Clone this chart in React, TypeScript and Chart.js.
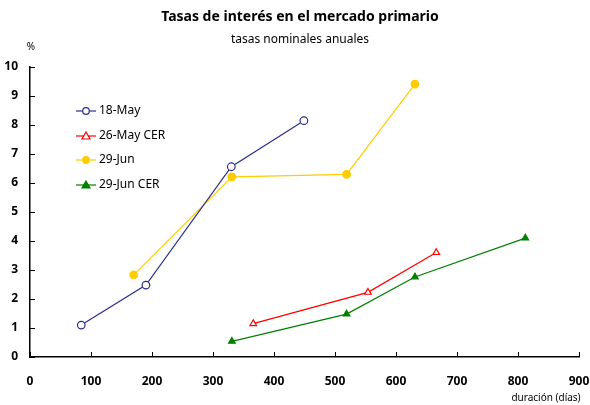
import React, { useEffect, useRef } from "react";
import { Chart, registerables } from "chart.js";
Chart.register(...registerables);

const seriesNames = ["18-May", "26-May CER", "29-Jun", "29-Jun CER"];
const may18X = [84, 190, 330, 449];
const may18Y = [1.1, 2.48, 6.56, 8.15];
const may26CerX = [366, 554, 666];
const may26CerY = [1.15, 2.23, 3.6];
const jun29X = [170, 331, 519, 631];
const jun29Y = [2.83, 6.21, 6.3, 9.41];
const jun29CerX = [331, 519, 631, 812];
const jun29CerY = [0.54, 1.48, 2.76, 4.1];
const xTicks = [0, 100, 200, 300, 400, 500, 600, 700, 800, 900];
const yTicks = [0, 1, 2, 3, 4, 5, 6, 7, 8, 9, 10];

const colors = ["#2B2E8F", "#FF0000", "#FFCC00", "#008000"];
const styles = ["circle", "triangle", "circle", "triangle"];
const filled = [false, false, true, true];
const FONT = "'Noto Sans', sans-serif";

function pts(xs: number[], ys: number[]) {
  return xs.map((x, i) => ({ x, y: ys[i] }));
}

export default function App() {
  const ref = useRef<HTMLCanvasElement | null>(null);
  useEffect(() => {
    const ctx = ref.current!;
    const data = [pts(may18X, may18Y), pts(may26CerX, may26CerY), pts(jun29X, jun29Y), pts(jun29CerX, jun29CerY)];
    const deco = {
      id: "deco",
      afterDraw(chart: any) {
        const c = chart.ctx;
        const xs = chart.scales.x;
        const ys = chart.scales.y;
        const ca = chart.chartArea;
        c.save();
        c.fillStyle = "#000";
        c.textAlign = "center";
        c.textBaseline = "middle";
        c.font = `bold 14px ${FONT}`;
        c.fillText("Tasas de interés en el mercado primario", 300, 17);
        c.font = `12px ${FONT}`;
        c.fillText("tasas nominales anuales", 300, 40);
        c.font = `10px ${FONT}`;
        c.fillText("%", 31, 47);
        c.fillText("duración (días)", 546, 398);
        // inward ticks
        c.strokeStyle = "#000";
        c.lineWidth = 1;
        c.beginPath();
        yTicks.forEach((v) => {
          const y = Math.round(ys.getPixelForValue(v)) + 0.5;
          c.moveTo(ca.left, y);
          c.lineTo(ca.left + 5, y);
        });
        xTicks.forEach((v) => {
          const x = Math.round(xs.getPixelForValue(v)) + 0.5;
          c.moveTo(x, ca.bottom);
          c.lineTo(x, ca.bottom - 5);
        });
        c.stroke();
        // legend
        const ly = [111, 136, 160, 185];
        seriesNames.forEach((n, i) => {
          const y = ly[i];
          c.strokeStyle = colors[i];
          c.lineWidth = 1.2;
          c.beginPath();
          c.moveTo(76, y);
          c.lineTo(96, y);
          c.stroke();
          c.fillStyle = filled[i] ? colors[i] : "#fff";
          c.beginPath();
          if (styles[i] === "circle") {
            c.arc(86, y, 3.3, 0, Math.PI * 2);
          } else {
            c.moveTo(86, y - 4);
            c.lineTo(90, y + 3);
            c.lineTo(82, y + 3);
            c.closePath();
          }
          c.fill();
          c.stroke();
          c.fillStyle = "#000";
          c.textAlign = "left";
          c.font = `12px ${FONT}`;
          c.fillText(n, 99, y);
        });
        c.restore();
      },
    };
    const chart = new Chart(ctx, {
      type: "line",
      data: {
        datasets: data.map((d, i) => ({
          label: seriesNames[i],
          data: d,
          borderColor: colors[i],
          backgroundColor: filled[i] ? colors[i] : "#ffffff",
          pointBackgroundColor: filled[i] ? colors[i] : "#ffffff",
          pointBorderColor: colors[i],
          pointStyle: styles[i],
          pointRadius: 3.8,
          pointBorderWidth: 1.2,
          borderWidth: 1.2,
          tension: 0,
          fill: false,
        })),
      },
      plugins: [deco],
      options: {
        animation: false,
        responsive: false,
        layout: { padding: { top: 67, right: 11, left: 0, bottom: 0 } },
        plugins: { legend: { display: false }, title: { display: false }, tooltip: { enabled: false } },
        scales: {
          x: {
            type: "linear",
            min: 0,
            max: 900,
            afterBuildTicks: (s: any) => { s.ticks = xTicks.map((v) => ({ value: v })); },
            afterFit: (s: any) => { s.height = 48; s.paddingRight = 0; s.paddingLeft = 0; },
            grid: { display: false, drawTicks: false },
            border: { display: true, color: "#000", width: 1.5 },
            ticks: { color: "#000", font: { family: FONT, size: 12, weight: "bold" }, padding: 17, maxRotation: 0 },
          },
          y: {
            min: 0,
            max: 10,
            afterBuildTicks: (s: any) => { s.ticks = yTicks.map((v) => ({ value: v })); },
            afterFit: (s: any) => { s.width = 30; s.paddingTop = 0; s.paddingBottom = 0; },
            grid: { display: false, drawTicks: false },
            border: { display: true, color: "#000", width: 1.5 },
            ticks: { color: "#000", font: { family: FONT, size: 12, weight: "bold" }, padding: 12 },
          },
        },
      },
    } as any);
    return () => chart.destroy();
  }, []);
  return (
    <div style={{ position: "fixed", left: 0, top: 0, width: 590, height: 405, background: "#fff" }}>
      <canvas ref={ref} width={590} height={405} style={{ width: 590, height: 405 }} />
    </div>
  );
}
